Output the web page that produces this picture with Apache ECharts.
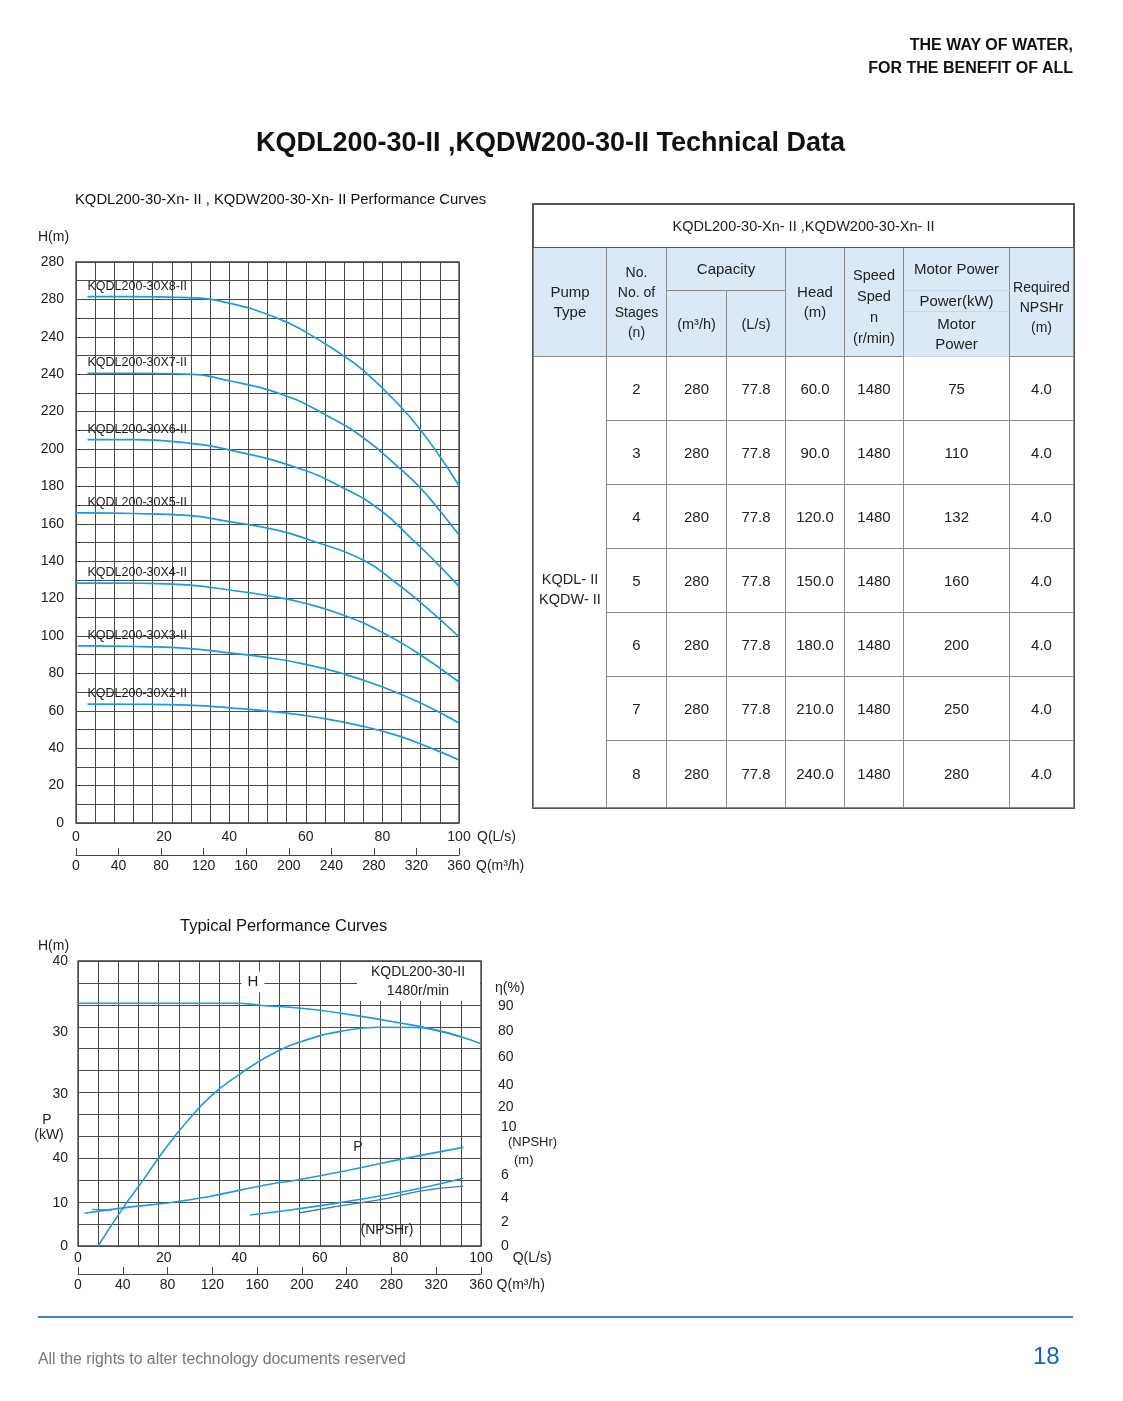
<!DOCTYPE html>
<html>
<head>
<meta charset="utf-8">
<script src="https://cdn.jsdelivr.net/npm/echarts@6/dist/echarts.min.js"></script>
<style>
html,body{margin:0;padding:0;background:#fff;}
body{width:1123px;height:1401px;position:relative;overflow:hidden;font-family:"Liberation Sans",Arial,Helvetica,sans-serif;color:#111;}
#chart{position:absolute;left:0;top:0;width:1123px;height:1401px;}
.hdr{position:absolute;right:50px;top:33px;text-align:right;font-weight:bold;font-size:16px;line-height:23px;color:#111;}
.ptitle{position:absolute;left:0;width:1101px;top:127px;text-align:center;font-weight:bold;font-size:27px;color:#111;}
.ctitle{position:absolute;font-size:14.8px;color:#111;white-space:nowrap;}
#spec{position:absolute;left:533px;top:204px;width:540px;border-collapse:collapse;table-layout:fixed;font-size:15px;color:#222;}
#spec td{border:1px solid #8a8a8a;text-align:center;vertical-align:middle;padding:0;line-height:20px;}
#spec tr.t td{height:42px;background:#fff;font-size:14.5px;border-color:#555;}
#spec tr.h td{background:#dbe8f5;}
#spec td.sub{border-color:#c9d8e8 #8a8a8a;}
#spec tr.b td{height:63px;}
#spec{outline:1px solid #555;}
.footline{position:absolute;left:38px;top:1316px;width:1035px;height:2px;background:#3d7fd4;}
.foot{position:absolute;left:38px;top:1350px;font-size:15.8px;color:#777;}
.pnum{position:absolute;left:1033px;top:1342px;font-size:24px;color:#1560bd;}
</style>
</head>
<body>
<div id="chart"></div>
<div class="hdr">THE WAY OF WATER,<br>FOR THE BENEFIT OF ALL</div>
<div class="ptitle">KQDL200-30-II ,KQDW200-30-II Technical Data</div>
<div class="ctitle" style="left:75px;top:191px;">KQDL200-30-Xn- II , KQDW200-30-Xn- II Performance Curves</div>
<div class="ctitle" style="left:180px;top:916px;font-size:16.5px;">Typical Performance Curves</div>

<table id="spec">
<colgroup><col style="width:73px"><col style="width:60px"><col style="width:60px"><col style="width:59px"><col style="width:59px"><col style="width:59px"><col style="width:106px"><col style="width:64px"></colgroup>
<tr class="t"><td colspan="8">KQDL200-30-Xn- II ,KQDW200-30-Xn- II</td></tr>
<tr class="h" style="height:43px">
<td rowspan="3">Pump<br>Type</td>
<td rowspan="3" style="font-size:14px">No.<br>No. of<br>Stages<br>(n)</td>
<td colspan="2">Capacity</td>
<td rowspan="3">Head<br>(m)</td>
<td rowspan="3" style="font-size:14.5px;line-height:21px;padding-top:10px">Speed<br>Sped<br>n<br>(r/min)</td>
<td class="sub">Motor Power</td>
<td rowspan="3" style="font-size:14px;padding-top:10px">Required<br>NPSHr<br>(m)</td>
</tr>
<tr class="h" style="height:21px">
<td rowspan="2" style="font-size:14.5px">(m³/h)</td>
<td rowspan="2" style="font-size:14.5px">(L/s)</td>
<td class="sub">Power(kW)</td>
</tr>
<tr class="h" style="height:45px">
<td class="sub">Motor<br>Power</td>
</tr>
<tbody id="body"></tbody>
</table>

<div class="footline"></div>
<div class="foot">All the rights to alter technology documents reserved</div>
<div class="pnum">18</div>

<script>
// ---------------- table data ----------------
const pumpType = ['KQDL- II', 'KQDW- II'];
const stages = [2, 3, 4, 5, 6, 7, 8];
const capacityM3h = ['280', '280', '280', '280', '280', '280', '280'];
const capacityLs = ['77.8', '77.8', '77.8', '77.8', '77.8', '77.8', '77.8'];
const headM = ['60.0', '90.0', '120.0', '150.0', '180.0', '210.0', '240.0'];
const speedRpm = ['1480', '1480', '1480', '1480', '1480', '1480', '1480'];
const motorPowerKw = ['75', '110', '132', '160', '200', '250', '280'];
const npshr = ['4.0', '4.0', '4.0', '4.0', '4.0', '4.0', '4.0'];

// ---------------- top chart: H-Q curves per stage count ----------------
const curveNames = ['KQDL200-30X8-II', 'KQDL200-30X7-II', 'KQDL200-30X6-II', 'KQDL200-30X5-II',
                    'KQDL200-30X4-II', 'KQDL200-30X3-II', 'KQDL200-30X2-II'];
const curveX8 = [[3,281.5],[15,281.5],[29,281],[40,278],[52.5,270],[60,262.5],[69,251],[75,242],[84.6,223],[90,210],[95,196],[100,180.5]];
const curveX7 = [[3,240.5],[15,240.5],[29,240],[40,236.5],[54,229],[64.5,219],[75,206],[84.6,189.5],[90,179],[95,167],[100,154]];
const curveX6 = [[3,205],[15,205],[29,203.2],[40,199.5],[57.7,190],[69,180],[79.4,167.4],[88,151.3],[94.2,139],[100,126.5]];
const curveX5 = [[0,165.8],[3,165.8],[15,165.5],[29,164.5],[40,161.2],[52.5,156.6],[61,151.3],[75,140.6],[83.7,128.2],[90.7,116.6],[100,99.6]];
const curveX4 = [[0,128.3],[3,128.3],[17.5,128.2],[29,127.3],[40,124.6],[50.6,121.4],[60,117.4],[69,111.8],[79,103],[88,92.5],[100,75.4]];
const curveX3 = [[0.5,94.7],[3,94.7],[17.5,94.3],[29,93.4],[40,91],[52.5,87.7],[60,84.8],[69,80.3],[79,73.5],[90,64.2],[100,53.5]];
const curveX2 = [[3,63.6],[17.5,63.5],[29,63],[40,61.6],[52.5,59.3],[64.5,56],[75,51.7],[84.6,46.3],[92.4,40.3],[100,33.7]];
const topCurves = [curveX8, curveX7, curveX6, curveX5, curveX4, curveX3, curveX2];

const topYTickValues = [0,20,40,60,80,100,120,140,160,180,200,220,240,260,280,300];
const topYTickLabels = ['0','20','40','60','80','100','120','140','160','180','200','220','240','240','280','280'];
const topXTickValues = [0, 23, 40, 60, 80, 100];
const topXTickLabels = ['0', '20', '40', '60', '80', '100'];

// ---------------- bottom chart: typical performance ----------------
const typHead = [[0,34.06],[21,34.06],[39.4,34.06],[45,33.8],[56.7,33.3],[68.3,32.4],[80,31.3],[89,30.3],[94.8,29.4],[100,28.4]];
const typEff = [[5,0],[11.1,14],[16.2,24.6],[21.4,35.7],[27,46.2],[32.8,55.5],[39.8,63.6],[48.5,71.7],[56.7,76.7],[65,79.8],[74.5,81.4],[84,81.3],[89,80.2],[94.8,77.9]];
const typPower = [[1.6,14.9],[11.2,17.4],[21.6,19.5],[32.3,22.5],[40.2,25.5],[48.9,28.6],[53.4,29.8],[68.3,35],[80,39.5],[95.6,45]];
const typPowerStub = [[3.5,16.7],[8.4,16.4]];
const typNpshA = [[42.7,2.61],[52.6,3.03],[65,3.65],[74.9,4.21],[84.9,4.86],[95.6,5.7]];
const typNpshB = [[55.1,2.8],[65,3.37],[77.4,4.06],[84.9,4.63],[95.6,5.05]];

const bottomXTickValues = [0, 21.3, 40, 60, 80, 100];
const bottomXTickLabels = ['0', '20', '40', '60', '80', '100'];
const bottomLeftTickValues = [40, 30, 21.3, 12.4, 6, 0];
const bottomLeftTickLabels = ['40', '30', '30', '40', '10', '0'];
const etaTickValues = [89.3, 80, 70.3, 59.9, 51.7];
const etaTickLabels = ['90', '80', '60', '40', '20'];
const npshTickValues = [10, 6, 4, 2, 0];
const npshTickLabels = ['10', '6', '4', '2', '0'];

// ---------------- build table body ----------------
(function(){
  const tb = document.getElementById('body');
  let html = '';
  for (let i = 0; i < stages.length; i++) {
    html += '<tr class="b">';
    if (i === 0) html += '<td rowspan="' + stages.length + '" style="font-size:14.5px;padding-top:14px">' + pumpType.join('<br>') + '</td>';
    html += '<td>' + stages[i] + '</td><td>' + capacityM3h[i] + '</td><td>' + capacityLs[i] + '</td><td>' + headM[i] +
            '</td><td>' + speedRpm[i] + '</td><td>' + motorPowerKw[i] + '</td><td>' + npshr[i] + '</td></tr>';
  }
  tb.innerHTML = html;
  const rows = tb.querySelectorAll('tr.b');
  rows[rows.length - 1].querySelectorAll('td').forEach(td => { if (!td.rowSpan || td.rowSpan === 1) td.style.height = '66px'; });
})();

// ---------------- chart ----------------
const BLUE = '#1e9ae0';
const GRID = '#4a4a4a';
const FONT = '"Liberation Sans", Arial, sans-serif';
const labelMap = (vals, labs) => v => { for (let i = 0; i < vals.length; i++) if (Math.abs(vals[i] - v) < 1e-6) return labs[i]; return ''; };

function stageSeries(name, pts) {
  const li = pts.findIndex(p => p[0] === 3);
  return {
    type: 'line', name: name, xAxisIndex: 0, yAxisIndex: 0,
    smooth: true, symbol: 'circle', symbolSize: 0, showSymbol: true,
    lineStyle: { color: BLUE, width: 1.7 }, itemStyle: { color: BLUE },
    z: 3,
    data: pts.map((p, i) => i === li ? {
      value: p,
      label: { show: true, position: 'top', distance: 4, align: 'left', formatter: name, fontSize: 12.5, color: '#1a1a1a', fontFamily: FONT }
    } : p)
  };
}
function plainLine(data, xi, yi, color, width) {
  return { type: 'line', xAxisIndex: xi, yAxisIndex: yi, data: data, smooth: true,
           symbol: 'none', lineStyle: { color: color, width: width || 1.6 }, z: 3 };
}

const axisText = { fontSize: 14, color: '#222', fontFamily: FONT };
const gridLine = { show: true, lineStyle: { color: GRID, width: 1 } };

function txt(x, y, text, opts) {
  const o = opts || {};
  return {
    type: 'text', x: x, y: y, z: o.z || 10,
    style: Object.assign({
      text: text, fontSize: o.fontSize || 14, fontFamily: FONT, fill: o.fill || '#222',
      align: o.align || 'left', textAlign: o.align || 'left',
      verticalAlign: 'middle', textVerticalAlign: 'middle'
    }, o.extra || {})
  };
}

const option = {
  animation: false,
  grid: [
    { left: 76, top: 262, width: 383, height: 561, show: true, borderColor: '#3a3a3a', borderWidth: 1.3, backgroundColor: 'transparent' },
    { left: 78, top: 961, width: 403, height: 285, show: true, borderColor: '#3a3a3a', borderWidth: 1.3, backgroundColor: 'transparent' }
  ],
  xAxis: [
    { gridIndex: 0, type: 'value', min: 0, max: 100, interval: 20,
      axisLine: { show: false }, axisTick: { show: false },
      axisLabel: Object.assign({ margin: 7, customValues: topXTickValues, formatter: labelMap(topXTickValues, topXTickLabels) }, axisText),
      splitLine: gridLine, minorTick: { show: false, splitNumber: 4 }, minorSplitLine: gridLine,
      name: 'Q(L/s)', nameLocation: 'end', nameGap: 18,
      nameTextStyle: Object.assign({ verticalAlign: 'top', padding: [7, 0, 0, 0] }, axisText) },
    { gridIndex: 0, type: 'value', min: 0, max: 360, interval: 40, position: 'bottom', offset: 32,
      axisLine: { show: true, onZero: false, lineStyle: { color: '#444', width: 1 } },
      axisTick: { show: true, inside: true, length: 7, lineStyle: { color: '#444' } },
      axisLabel: Object.assign({ margin: 4 }, axisText), splitLine: { show: false },
      name: 'Q(m³/h)', nameLocation: 'end', nameGap: 17,
      nameTextStyle: Object.assign({ verticalAlign: 'top', padding: [4, 0, 0, 0] }, axisText) },
    { gridIndex: 1, type: 'value', min: 0, max: 100, interval: 20,
      axisLine: { show: false }, axisTick: { show: false },
      axisLabel: Object.assign({ margin: 5, customValues: bottomXTickValues, formatter: labelMap(bottomXTickValues, bottomXTickLabels) }, axisText),
      splitLine: gridLine, minorTick: { show: false, splitNumber: 4 }, minorSplitLine: gridLine,
      name: 'Q(L/s)', nameLocation: 'end', nameGap: 14,
      nameTextStyle: Object.assign({ verticalAlign: 'top', padding: [5, 0, 0, 0] }, axisText) },
    { gridIndex: 1, type: 'value', min: 0, max: 360, interval: 40, position: 'bottom', offset: 28,
      axisLine: { show: true, onZero: false, lineStyle: { color: '#444', width: 1 } },
      axisTick: { show: true, inside: true, length: 7, lineStyle: { color: '#444' } },
      axisLabel: Object.assign({ margin: 4 }, axisText), splitLine: { show: false },
      name: 'Q(m³/h)', nameLocation: 'end', nameGap: 12,
      nameTextStyle: Object.assign({ verticalAlign: 'top', padding: [4, 0, 0, 0] }, axisText) }
  ],
  yAxis: [
    { gridIndex: 0, type: 'value', min: 0, max: 300, interval: 20,
      axisLine: { show: false }, axisTick: { show: false },
      axisLabel: Object.assign({ margin: 12, formatter: labelMap(topYTickValues, topYTickLabels) }, axisText),
      splitLine: gridLine, minorTick: { show: false, splitNumber: 2 }, minorSplitLine: gridLine },
    { gridIndex: 1, type: 'value', min: 0, max: 40, position: 'left',
      axisLine: { show: false }, axisTick: { show: false }, splitLine: { show: false },
      axisLabel: Object.assign({ margin: 10, customValues: bottomLeftTickValues, formatter: labelMap(bottomLeftTickValues, bottomLeftTickLabels) }, axisText) },
    { gridIndex: 1, type: 'value', min: 0, max: 13, interval: 1, position: 'left',
      axisLine: { show: false }, axisTick: { show: false }, axisLabel: { show: false },
      splitLine: gridLine },
    { gridIndex: 1, type: 'value', min: 0, max: 106.05, position: 'right',
      axisLine: { show: false }, axisTick: { show: false }, splitLine: { show: false },
      axisLabel: Object.assign({ margin: 17, customValues: etaTickValues, formatter: labelMap(etaTickValues, etaTickLabels) }, axisText) },
    { gridIndex: 1, type: 'value', min: 0, max: 130, position: 'right',
      axisLine: { show: false }, axisTick: { show: false }, splitLine: { show: false }, axisLabel: { show: false } },
    { gridIndex: 1, type: 'value', min: 0, max: 24, position: 'right',
      axisLine: { show: false }, axisTick: { show: false }, splitLine: { show: false },
      axisLabel: Object.assign({ margin: 20, customValues: npshTickValues, formatter: labelMap(npshTickValues, npshTickLabels) }, axisText) }
  ],
  series: topCurves.map((c, i) => stageSeries(curveNames[i], c)).concat([
    plainLine(typHead, 2, 1, BLUE, 1.6),
    plainLine(typEff, 2, 3, BLUE, 1.6),
    plainLine(typPower, 2, 4, BLUE, 1.6),
    plainLine(typPowerStub, 2, 4, BLUE, 1.4),
    plainLine(typNpshA, 2, 5, BLUE, 1.6),
    plainLine(typNpshB, 2, 5, '#3f7ea8', 1.3)
  ]),
  graphic: [
    { type: 'rect', z: 1, shape: { x: 357, y: 962, width: 123, height: 39 }, style: { fill: '#fff' } },
    txt(38, 237, 'H(m)'),
    txt(38, 946, 'H(m)'),
    txt(47, 1120, 'P', { align: 'center' }),
    txt(49, 1135, '(kW)', { align: 'center' }),
    txt(495, 988, 'η(%)'),
    txt(508, 1142, '(NPSHr)', { fontSize: 13 }),
    txt(514, 1160, '(m)', { fontSize: 13 }),
    txt(253, 982, 'H', { align: 'center', fontSize: 15, extra: { backgroundColor: '#fff', padding: [3, 6] } }),
    txt(358, 1147, 'P', { align: 'center' }),
    txt(387, 1230, '(NPSHr)', { align: 'center' }),
    txt(418, 972, 'KQDL200-30-II', { align: 'center' }),
    txt(418, 991, '1480r/min', { align: 'center' })
  ]
};

const chart = echarts.init(document.getElementById('chart'), null, { renderer: 'canvas' });
chart.setOption(option);
</script>
</body>
</html>
